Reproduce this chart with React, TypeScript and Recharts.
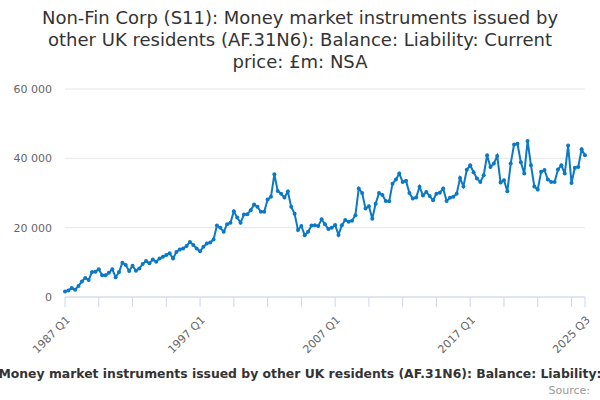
import React from 'react';
import { LineChart, Line, XAxis, YAxis, CartesianGrid } from 'recharts';

const values: number[] = [
  1600, 1900, 2600, 2100, 3200, 4500, 5500, 4900, 7200, 7300,
  8000, 6300, 6300, 7000, 8000, 5700, 7200, 9900, 9200, 7500,
  9000, 7600, 8200, 9500, 10400, 9700, 10800, 10200, 11100, 11600,
  12100, 12600, 11100, 13000, 13700, 14000, 14700, 15900, 15000, 14000,
  13200, 14500, 15400, 15700, 16600, 20600, 20000, 18800, 21000, 21400,
  24700, 22900, 21400, 23800, 23900, 25000, 26700, 26000, 24600, 24600,
  28100, 28900, 35400, 30600, 29800, 28700, 30400, 26000, 24000, 19300,
  20500, 17800, 18800, 20600, 20700, 20500, 22400, 21000, 19600, 20000,
  20800, 17900, 20700, 22200, 21700, 22000, 23600, 31300, 30000, 25500,
  26200, 22600, 26900, 30000, 29400, 27700, 27600, 32700, 33900, 35600,
  33200, 33500, 30000, 28400, 28700, 31800, 29300, 30300, 29100, 27900,
  29800, 30100, 31300, 27700, 28600, 28900, 29800, 34300, 31900, 36700,
  38000, 36000, 34200, 33200, 35100, 40900, 37500, 38500, 40700, 33000,
  33700, 30500, 38500, 44000, 44200, 38900, 35600, 45000, 38000, 31900,
  31000, 36100, 36600, 33900, 33200, 33200, 36800, 38000, 35600, 43700,
  32900, 37300, 37500, 42600, 40900,
];

const startYear = 1987;
const categories: string[] = values.map((_, i) => `${startYear + Math.floor(i / 4)} Q${(i % 4) + 1}`);

const xTickIdx: number[] = [0, 10, 20, 30, 40, 50, 60, 70, 80, 90, 100, 110, 120, 130, 140, 150, 154];
const xLabelIdx: number[] = [0, 40, 80, 120, 154];
const yTicks: number[] = [0, 20000, 40000, 60000];

const titleLines: string[] = [
  'Non-Fin Corp (S11): Money market instruments issued by',
  'other UK residents (AF.31N6): Balance: Liability: Current',
  'price: £m: NSA',
];
const legendText = 'Money market instruments issued by other UK residents (AF.31N6): Balance: Liability:';
const sourceText = 'Source:';

const data = values.map((v, i) => ({ idx: i, label: categories[i], v }));

const FONT = '"DejaVu Sans", sans-serif';
const LINE_COLOR = '#0b79c5';

const fmtY = (v: number) => (v === 0 ? '0' : `${Math.floor(v / 1000)} ${String(v % 1000).padStart(3, '0')}`);

const XTick = (props: any) => {
  const { x, y, payload } = props;
  const i = payload.value as number;
  if (!xLabelIdx.includes(i)) return <g />;
  return (
    <g transform={`translate(${x},${y + 6})`}>
      <text
        x={0}
        y={0}
        dy={8}
        textAnchor="end"
        transform="rotate(-45)"
        fill="#666666"
        fontSize={11}
        fontFamily={FONT}
      >
        {categories[i]}
      </text>
    </g>
  );
};

export default function App() {
  return (
    <div
      style={{
        position: 'fixed',
        left: 0,
        top: 0,
        width: 600,
        height: 400,
        background: '#ffffff',
        overflow: 'hidden',
        fontFamily: FONT,
      }}
    >
      <div
        style={{
          position: 'absolute',
          left: 0,
          top: 7,
          width: 600,
          textAlign: 'center',
          fontSize: 18,
          lineHeight: '22px',
          color: '#333333',
          whiteSpace: 'nowrap',
        }}
      >
        {titleLines.map((t, k) => (
          <div key={k}>{t}</div>
        ))}
      </div>
      <div style={{ position: 'absolute', left: 0, top: 0 }}>
        <LineChart
          width={600}
          height={400}
          data={data}
          margin={{ top: 89, right: 15, bottom: 0, left: 0 }}
        >
          <CartesianGrid horizontal vertical={false} stroke="#e6e6e6" />
          <XAxis
            dataKey="idx"
            type="number"
            domain={[0, 154]}
            ticks={xTickIdx}
            interval={0}
            tick={<XTick />}
            axisLine={{ stroke: '#ccd6eb' }}
            tickLine={{ stroke: '#ccd6eb' }}
            tickSize={10}
            height={103}
          />
          <YAxis
            type="number"
            domain={[0, 60000]}
            ticks={yTicks}
            tickFormatter={fmtY}
            axisLine={false}
            tickLine={false}
            tickSize={0}
            tickMargin={13}
            width={65}
            tick={{ fill: '#666666', fontSize: 11, fontFamily: FONT }}
          />
          <Line
            type="linear"
            dataKey="v"
            stroke={LINE_COLOR}
            strokeWidth={2}
            dot={{ r: 2, fill: LINE_COLOR, stroke: LINE_COLOR, strokeWidth: 0 }}
            activeDot={false}
            isAnimationActive={false}
          />
        </LineChart>
      </div>
      <div
        style={{
          position: 'absolute',
          left: 300,
          top: 366,
          transform: 'translateX(-50%)',
          whiteSpace: 'nowrap',
          fontSize: 12.4,
          fontWeight: 'bold',
          color: '#333333',
        }}
      >
        {legendText}
      </div>
      <div
        style={{
          position: 'absolute',
          right: 10,
          top: 384,
          whiteSpace: 'nowrap',
          fontSize: 11,
          color: '#999999',
        }}
      >
        {sourceText}
      </div>
    </div>
  );
}
